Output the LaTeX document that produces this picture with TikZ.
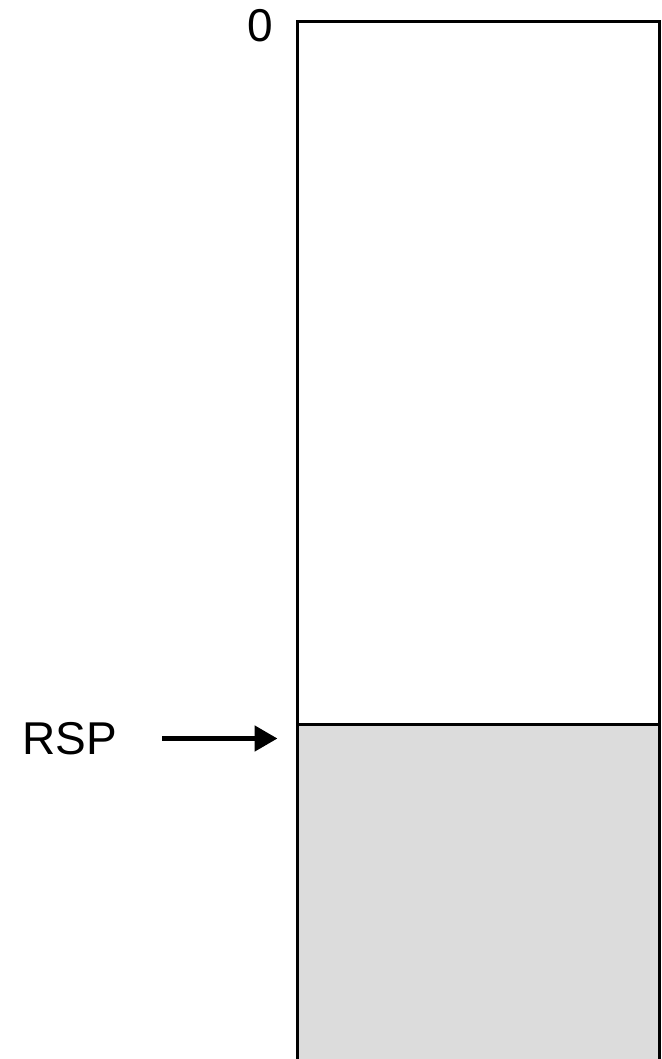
\documentclass[tikz,border=0pt]{standalone}
\usepackage{fontspec}
\setmainfont{Liberation Sans}
\usetikzlibrary{positioning,arrows.meta}
\definecolor{stackgray}{RGB}{220,220,220}

\begin{document}
\begin{tikzpicture}[
    x=1pt, y=-1pt,
    slot/.style = {rectangle, draw, line width=1.3pt, minimum width=361pt, inner sep=0pt, anchor=north west},
    frame/.style = {line width=3pt},
    label/.style = {inner sep=0pt, font=\fontsize{46}{46}\selectfont},
    pointer/.style = {-{Triangle[length=23pt, width=25pt]}, line width=5pt}
]
    \clip (0,0) rectangle (661,1059);

    % Stack regions
    \node[slot, minimum height=701pt] (free) at (297.5,22) {};
    \node[slot, fill=stackgray, minimum height=400pt, below=0pt of free] (used) {};
    \draw[frame] (used.south west) -- (free.north west) -- (free.north east) -- (used.south east);

    % Labels
    \node[label] (zero) at (260,25.5) {0};
    \node[label] (rsp) at (70,738.5) {RSP};

    % Stack pointer
    \draw[pointer, shorten <=45pt, shorten >=20pt] (rsp.east) -- (rsp.east -| used.west);
\end{tikzpicture}
\end{document}
